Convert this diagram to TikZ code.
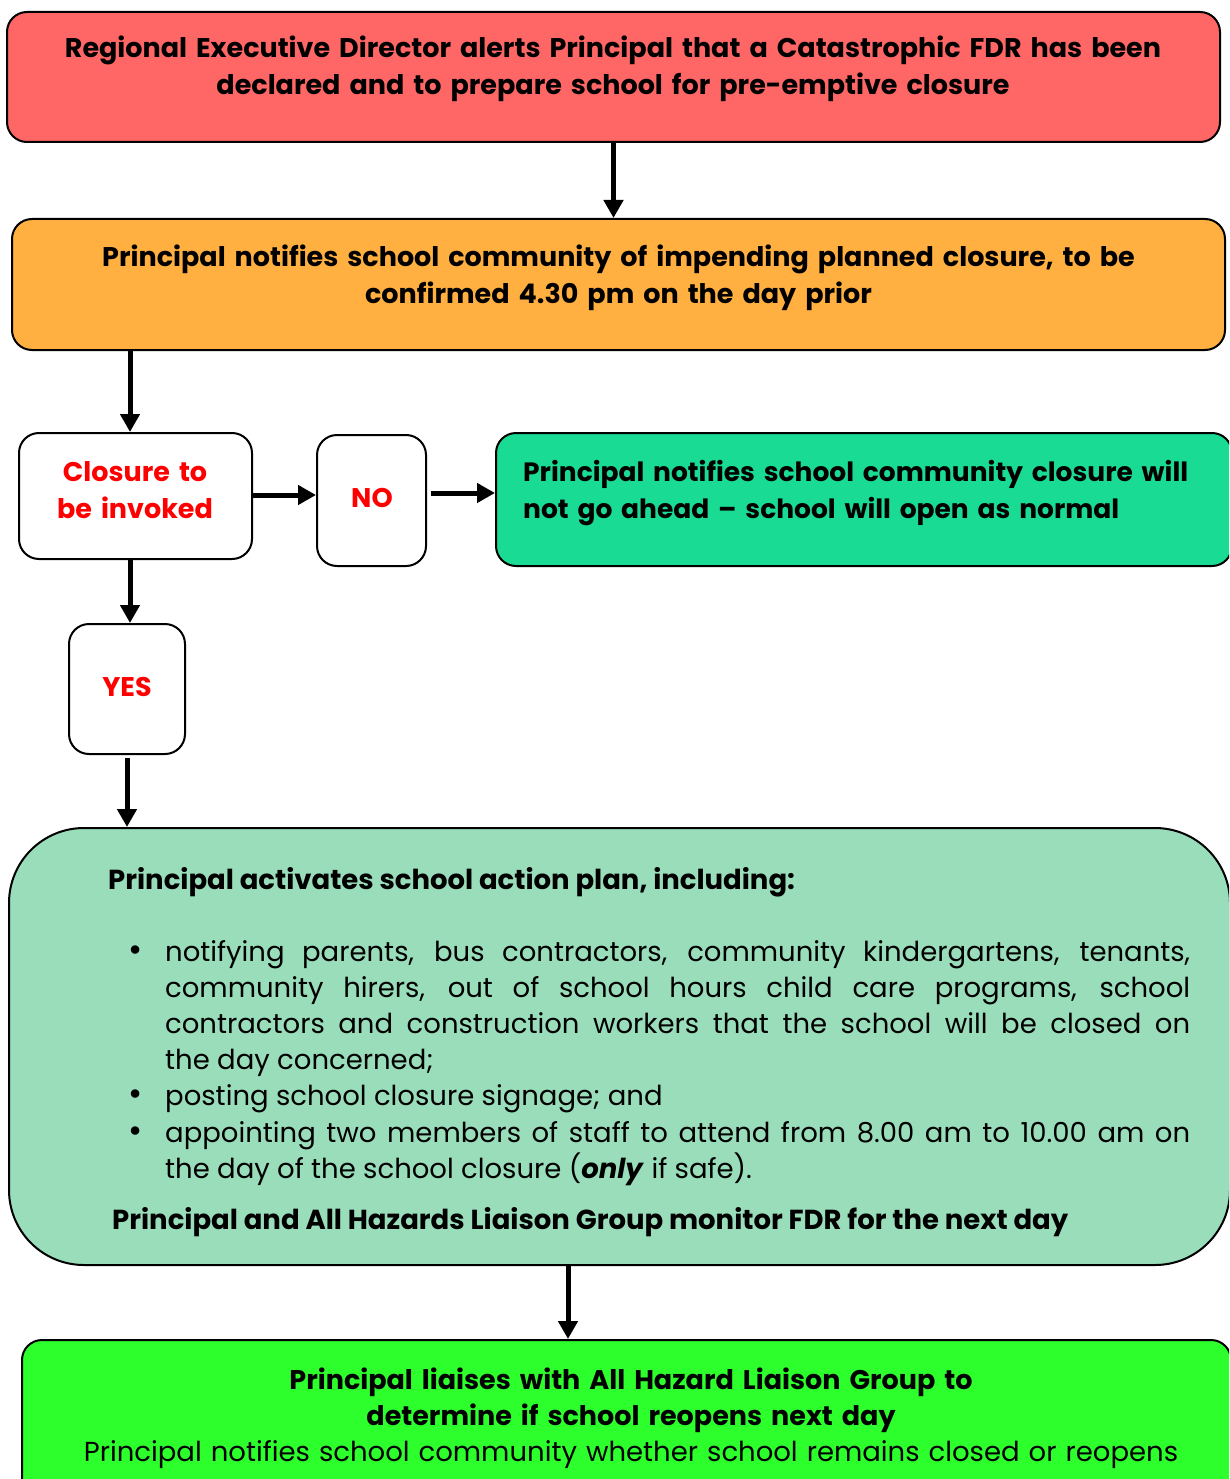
\documentclass[tikz,border=0pt]{standalone}
\usepackage{fontspec}
\setmainfont{Poppins}
\usepackage{enumitem}
\usetikzlibrary{arrows.meta, positioning, calc}
\definecolor{AlertRed}{HTML}{FF6666}
\definecolor{NoticeOrange}{HTML}{FFB040}
\definecolor{OpenTeal}{HTML}{19DB94}
\definecolor{PlanMint}{HTML}{99DDBB}
\definecolor{ReopenGreen}{HTML}{2DFF2D}
\definecolor{DecideRed}{HTML}{FF0000}
\newcommand{\flowfont}{\fontsize{27}{37}\selectfont}
\newcommand{\planfont}{\fontsize{27.5}{36.2}\selectfont}
\tikzset{
  fbox/.style={draw=black, line width=2pt, rounded corners=20pt, inner sep=0pt},
  qbox/.style={fbox, fill=white},
  btxt/.style={font=\flowfont\bfseries, inner sep=0pt, align=center, text width=1200pt},
  ltxt/.style={font=\fontsize{26.5}{37}\selectfont\bfseries, inner sep=0pt, align=left, text width=700pt},
  qtxt/.style={btxt, text=DecideRed, text width=220pt},
  ptxt/.style={font=\planfont, inner sep=0pt, align=justify, text width=1082pt},
  flow/.style={line width=5pt, -{Triangle[length=18pt, width=19pt]}},
}
\begin{document}
\begin{tikzpicture}[x=1pt, y=-1pt]
  \useasboundingbox (0,0) rectangle (1229,1479);
  \clip (0,0) rectangle (1229,1479);
  % boxes
  \node[fbox, fill=AlertRed, minimum width=1213pt, minimum height=130pt] (alert) at (613.5,77) {};
  \node[fbox, fill=NoticeOrange, minimum width=1213pt, minimum height=131pt] (notify) at (618.5,284.5) {};
  \node[qbox, minimum width=233pt, minimum height=126pt] (closure) at (135.5,496) {};
  \node[qbox, minimum width=109pt, minimum height=131pt] (no) at (371.5,500.5) {};
  \node[fbox, fill=OpenTeal, minimum width=736pt, minimum height=133pt] (open) at (864,499.5) {};
  \node[qbox, minimum width=116pt, minimum height=130pt] (yes) at (127,689) {};
  \node[fbox, fill=PlanMint, rounded corners=75pt, minimum width=1221pt, minimum height=437pt] (plan) at (619.5,1046.5) {};
  \node[fbox, fill=ReopenGreen, minimum width=1209pt, minimum height=170pt] (reopen) at (626.5,1425) {};
  % texts
  \node[btxt, anchor=base] (alerttxt) at (613,58) {Regional Executive Director alerts Principal that a Catastrophic FDR has been\\declared and to prepare school for pre-emptive closure};
  \node[btxt, anchor=base] (notifytxt) at (618.5,266) {Principal notifies school community of impending planned closure, to be\\confirmed 4.30 pm on the day prior};
  \node[qtxt, anchor=base] (closuretxt) at (135,481) {Closure to\\be invoked};
  \node[qtxt, anchor=base] (notxt) at (372,507) {NO};
  \node[qtxt, anchor=base] (yestxt) at (127,696) {YES};
  \node[ltxt, anchor=base west] (opentxt) at (523,481) {Principal notifies school community closure will\\not go ahead -- school will open as normal};
  \node[ptxt, anchor=base west] (plantxt) at (108,889) {%
    {\bfseries Principal activates school action plan, including:}\par
    \vspace{35.8pt}
    \begin{itemize}[leftmargin=57pt, labelsep=23pt, topsep=0pt, partopsep=0pt, itemsep=0pt, parsep=0pt,
        label={\scalebox{1.25}{\textbullet}}]
      \item notifying parents, bus contractors, community kindergartens, tenants,\linebreak community hirers, out of school hours child care programs, school\linebreak contractors and construction workers that the school will be closed on\linebreak the day concerned;
      \item posting school closure signage; and
      \item appointing two members of staff to attend from 8.00 am to 10.00 am on\linebreak the day of the school closure (\textbf{\textit{only}} if safe).
    \end{itemize}
    \vspace{14.6pt}
    \hspace*{4pt}{\bfseries Principal and All Hazards Liaison Group monitor FDR for the next day}};
  \node[btxt, anchor=base, font=\fontsize{27}{36}\selectfont\bfseries] (reopentxt) at (631,1389) {Principal liaises with All Hazard Liaison Group to\\determine if school reopens next day\\\mdseries\fontsize{27.5}{36}\selectfont Principal notifies school community whether school remains closed or reopens};
  % arrows
  \draw[flow] (alert.south) -- (alert.south |- notify.north);
  \draw[flow] ([xshift=-5.5pt]closure.north |- notify.south) -- ([xshift=-5.5pt]closure.north);
  \draw[flow] ([yshift=1pt]closure.east) -- ([yshift=1pt]closure.east -| no.west);
  \draw[flow] ([xshift=4pt, yshift=7.5pt]no.east) -- ([yshift=7.5pt]no.east -| open.west);
  \draw[flow] ([xshift=-5.5pt]closure.south) -- ([xshift=-5.5pt]closure.south |- yes.north);
  \draw[flow] ([yshift=-3pt]yes.south) -- (yes.south |- plan.north);
  \draw[flow] ([xshift=-51.5pt]plan.south) -- ([xshift=-51.5pt]plan.south |- reopen.north);
\end{tikzpicture}
\end{document}
